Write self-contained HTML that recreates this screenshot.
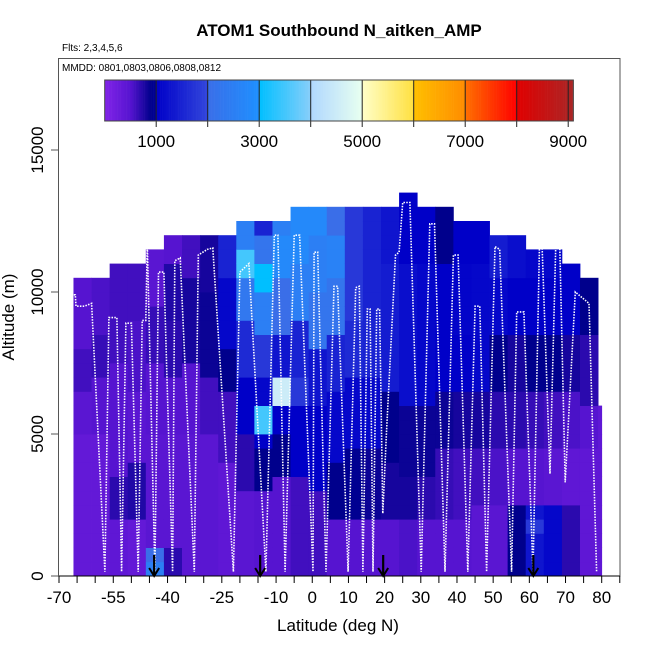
<!DOCTYPE html>
<html><head><meta charset="utf-8">
<style>
html,body{margin:0;padding:0;background:#fff;}
svg{display:block;font-family:"Liberation Sans",sans-serif;}
</style></head>
<body>
<svg id="chart" width="650" height="650" viewBox="0 0 650 650">
  <text x="339" y="36" font-size="17" font-weight="bold" text-anchor="middle">ATOM1 Southbound N_aitken_AMP</text>
  <text x="62" y="51" font-size="10">Flts: 2,3,4,5,6</text>
  <g id="cells"></g>
  <g id="track"></g>
  <g id="arrows"></g>
  <rect x="58.5" y="58.5" width="561.5" height="517.5" fill="none" stroke="#555" stroke-width="1"/>
  <text x="62" y="71" font-size="10">MMDD: 0801,0803,0806,0808,0812</text>
  <g id="cbar"></g>
  <g id="xaxis"></g>
  <g id="yaxis"></g>
  <text x="338" y="631" font-size="17" text-anchor="middle">Latitude (deg N)</text>
  <text x="14" y="317" font-size="17" text-anchor="middle" transform="rotate(-90 14 317)">Altitude (m)</text>
</svg>
<script>
// ---- data ----
const colStartLat = [-66,-61,-56,-51,-46,-41,-36,-31,-26,-21,-16,-11,-6,-1,4,9,14,19,24,29,34,39,44,49,54,59,64,69,74,79];
const colWidth = 5;
const binHeight = 500;
// each column: run-length list of [value, number of 500 m bins] from the ground up
const colProfiles = [
 [[350,10],[450,3],[600,3],[500,5]],
 [[350,10],[500,4],[650,3],[550,4]],
 [[400,4],[700,3],[500,8],[600,7]],
 [[350,4],[750,4],[450,5],[550,5],[600,4]],
 [[2500,1],[2000,1],[450,8],[500,5],[650,4],[450,4]],
 [[700,2],[450,8],[500,4],[700,4],[750,4],[500,2]],
 [[450,10],[500,5],[800,6],[600,3]],
 [[450,10],[600,4],[850,6],[800,4]],
 [[400,8],[600,5],[900,3],[1100,5],[1500,3]],
 [[450,6],[700,4],[1000,4],[1600,4],[2300,3],[3500,2],[2500,2]],
 [[500,6],[900,3],[1000,1],[3500,2],[1100,2],[1800,3],[2500,3],[3000,2],[2200,2],[1500,1]],
 [[500,7],[900,3],[1000,2],[4500,2],[1300,3],[2000,4],[2800,3],[2500,1]],
 [[600,7],[1000,5],[1800,2],[1500,4],[2500,4],[2800,4]],
 [[600,6],[1000,6],[1300,4],[2200,4],[2500,4],[2800,2]],
 [[500,4],[900,4],[1100,5],[1500,4],[2200,4],[2600,3],[2000,2]],
 [[500,4],[950,5],[1100,5],[1600,4],[1800,8]],
 [[500,4],[850,5],[1100,5],[1500,12]],
 [[500,4],[800,4],[900,5],[1400,9],[1300,4]],
 [[550,4],[800,3],[850,5],[1200,10],[1000,5]],
 [[500,4],[700,3],[850,5],[1100,10],[1000,4]],
 [[500,4],[650,5],[850,4],[1000,9],[900,4]],
 [[500,4],[600,5],[800,4],[1000,4],[1050,5],[1000,3]],
 [[450,5],[600,4],[800,4],[1100,9],[1000,3]],
 [[450,5],[550,4],[700,4],[900,4],[1100,4],[1400,3]],
 [[900,5],[500,4],[700,4],[800,4],[1000,4],[1200,3]],
 [[1300,3],[1800,1],[1300,1],[500,4],[650,4],[900,4],[1000,4],[1100,2]],
 [[1100,5],[450,4],[600,4],[900,4],[1000,4],[1100,2]],
 [[700,5],[400,4],[550,4],[800,4],[1000,5]],
 [[400,9],[500,3],[700,5],[900,4]],
 [[400,12]]
];
const trackLat = [-67.5,-67.5,-66.8,-66.5,-65.5,-65.3,-63,-61,-57.3,-56.2,-54,-52.7,-51.5,-50,-48.1,-47,-46,-45.6,-43.5,-42.5,-41,-38.6,-38,-36.5,-32.6,-31.5,-29,-27.5,-21.8,-20,-17.5,-12.8,-10.5,-9.5,-7.5,-5,-3.5,0.2,0.5,1.5,3.8,6,7,9.9,12,13,14,15.2,16,16.8,17.8,18.6,19.5,20.5,23,24,25,27,30.1,32.5,33.8,36.7,39,40.3,43,45,46.3,48.2,50.5,51.8,55.1,56.5,58.5,61,62.8,63.5,65.7,67.3,68.4,69.9,72.7,76.5,78.6];
const trackAlt = [1500,10200,10200,9900,9900,9500,9500,9600,150,9100,9100,150,8900,8900,150,9000,9000,11700,150,10700,10700,150,11100,11200,150,11300,11500,11550,150,10700,11000,150,12000,12000,150,12000,12000,150,11400,11400,150,10200,10200,150,10150,10200,150,9400,9400,150,9400,9400,2200,5000,11300,11400,13150,13150,150,12400,12400,150,11300,11300,150,9500,9500,150,11600,11500,150,9300,9300,150,11700,11700,3600,11700,11700,3300,10000,9600,150];
const arrowLats = [-43.7,-14.4,19.6,61.1];
const xTickLats = [-70,-65,-60,-55,-50,-45,-40,-35,-30,-25,-20,-15,-10,-5,0,5,10,15,20,25,30,35,40,45,50,55,60,65,70,75,80,85];
const xLabelLats = [-70,-55,-40,-25,-10,0,10,20,30,40,50,60,70,80];
const yTickVals = [0,5000,10000,15000];
const cbarLabels = [1000,3000,5000,7000,9000];
const cbarLines = [1000,2000,3000,4000,5000,6000,7000,8000,9000];
const cbarMax = 9100;

// ---- scales ----
const X = lat => 59 + (lat + 70) * 3.618;
const Y = alt => 576 - alt * 0.0284;
const C = v => 104.7 + v * 0.0515;
const NS = "http://www.w3.org/2000/svg";
function mk(tag, attrs, parent){const e=document.createElementNS(NS,tag);for(const k in attrs)e.setAttribute(k,attrs[k]);parent.appendChild(e);return e;}

// colormap
const segs = [
 [0,500,[130,36,232],[86,20,208]],
 [500,900,[86,20,208],[0,0,140]],
 [900,1000,[0,0,140],[0,0,150]],
 [1000,2000,[0,0,200],[50,70,220]],
 [2000,3000,[58,110,232],[30,144,255]],
 [3000,4000,[0,191,255],[135,206,250]],
 [4000,5000,[176,216,255],[232,255,240]],
 [5000,6000,[255,255,200],[255,224,64]],
 [6000,7000,[255,192,0],[255,140,0]],
 [7000,8000,[255,112,0],[255,0,0]],
 [8000,9200,[224,0,0],[165,42,42]]
];
function col(v){
  let s = segs[segs.length-1];
  for (const g of segs) if (v < g[1]) { s = g; break; }
  let t = Math.max(0, Math.min(1, (v - s[0]) / (s[1] - s[0])));
  const c = s[2].map((a,i)=>Math.round(a + (s[3][i]-a)*t));
  return `rgb(${c[0]},${c[1]},${c[2]})`;
}

// ---- heatmap ----
const cells = document.getElementById('cells');
colProfiles.forEach((prof, ci) => {
  const lat0 = colStartLat[ci];
  const lat1 = Math.min(lat0 + colWidth, 80);
  let bin = 0;
  prof.forEach(([v, n]) => {
    for (let k = 0; k < n; k++) {
      const a0 = bin * binHeight, a1 = a0 + binHeight;
      const r = mk('rect', {x: X(lat0), y: Y(a1), width: X(lat1) - X(lat0) + 0.4, height: Y(a0) - Y(a1) + 0.4, fill: col(v)}, cells);
      
      
      bin++;
    }
  });
});

// ---- flight track ----
const trk = document.getElementById('track');
const pts = trackLat.map((la,i)=>X(la).toFixed(1)+','+Y(trackAlt[i]).toFixed(1)).join(' ');
const pl = mk('polyline', {points: pts, fill: 'none', stroke: '#fff', 'stroke-width': 1.6, 'stroke-dasharray': '1.5 1.3'}, trk);



// ---- arrows ----
const arr = document.getElementById('arrows');
arrowLats.forEach(la => {
  const g = mk('g', {}, arr);
  
  
  const x = X(la);
  mk('line', {x1: x, y1: 555, x2: x, y2: 575, stroke: '#000', 'stroke-width': 2.2}, g);
  mk('polyline', {points: `${x-5},${568} ${x},${576} ${x+5},${568}`, fill: 'none', stroke: '#000', 'stroke-width': 2}, g);
});

// ---- colorbar ----
const cb = document.getElementById('cbar');
for (let v = 0; v < cbarMax; v += 25) {
  const r = mk('rect', {x: C(v), y: 80, width: 25*0.0515 + 0.3, height: 41, fill: col(v + 12)}, cb);
  
  
}
cbarLines.forEach(v => {
  const l = mk('line', {x1: C(v), y1: 80, x2: C(v), y2: 127, stroke: '#222', 'stroke-width': 1}, cb);
  
  
});
mk('rect', {x: C(0), y: 80, width: C(cbarMax) - C(0), height: 41, fill: 'none', stroke: '#444', 'stroke-width': 1}, cb);
cbarLabels.forEach(v => {
  const t = mk('text', {x: C(v), y: 147, 'font-size': 17, 'text-anchor': 'middle'}, cb);
  t.textContent = v;
  
  
});

// ---- x axis ----
const xa = document.getElementById('xaxis');
mk('line', {x1: X(-70), y1: 576, x2: X(85), y2: 576, stroke: '#000', 'stroke-width': 1}, xa);
xTickLats.forEach(la => {
  const l = mk('line', {x1: X(la), y1: 576, x2: X(la), y2: 583, stroke: '#000', 'stroke-width': 1}, xa);
  
  
});
xLabelLats.forEach(la => {
  const t = mk('text', {x: X(la), y: 603, 'font-size': 17, 'text-anchor': 'middle'}, xa);
  t.textContent = la;
  
  
});

// ---- y axis ----
const ya = document.getElementById('yaxis');
mk('line', {x1: 58.5, y1: Y(0), x2: 58.5, y2: Y(15000), stroke: '#555', 'stroke-width': 1}, ya);
yTickVals.forEach(v => {
  const l = mk('line', {x1: 51, y1: Y(v), x2: 58.5, y2: Y(v), stroke: '#555', 'stroke-width': 1}, ya);
  
  
  const t = mk('text', {x: 43, y: Y(v), 'font-size': 17, 'text-anchor': 'middle', transform: `rotate(-90 43 ${Y(v)})`}, ya);
  t.textContent = v;
  
  
});
</script>
</body></html>
